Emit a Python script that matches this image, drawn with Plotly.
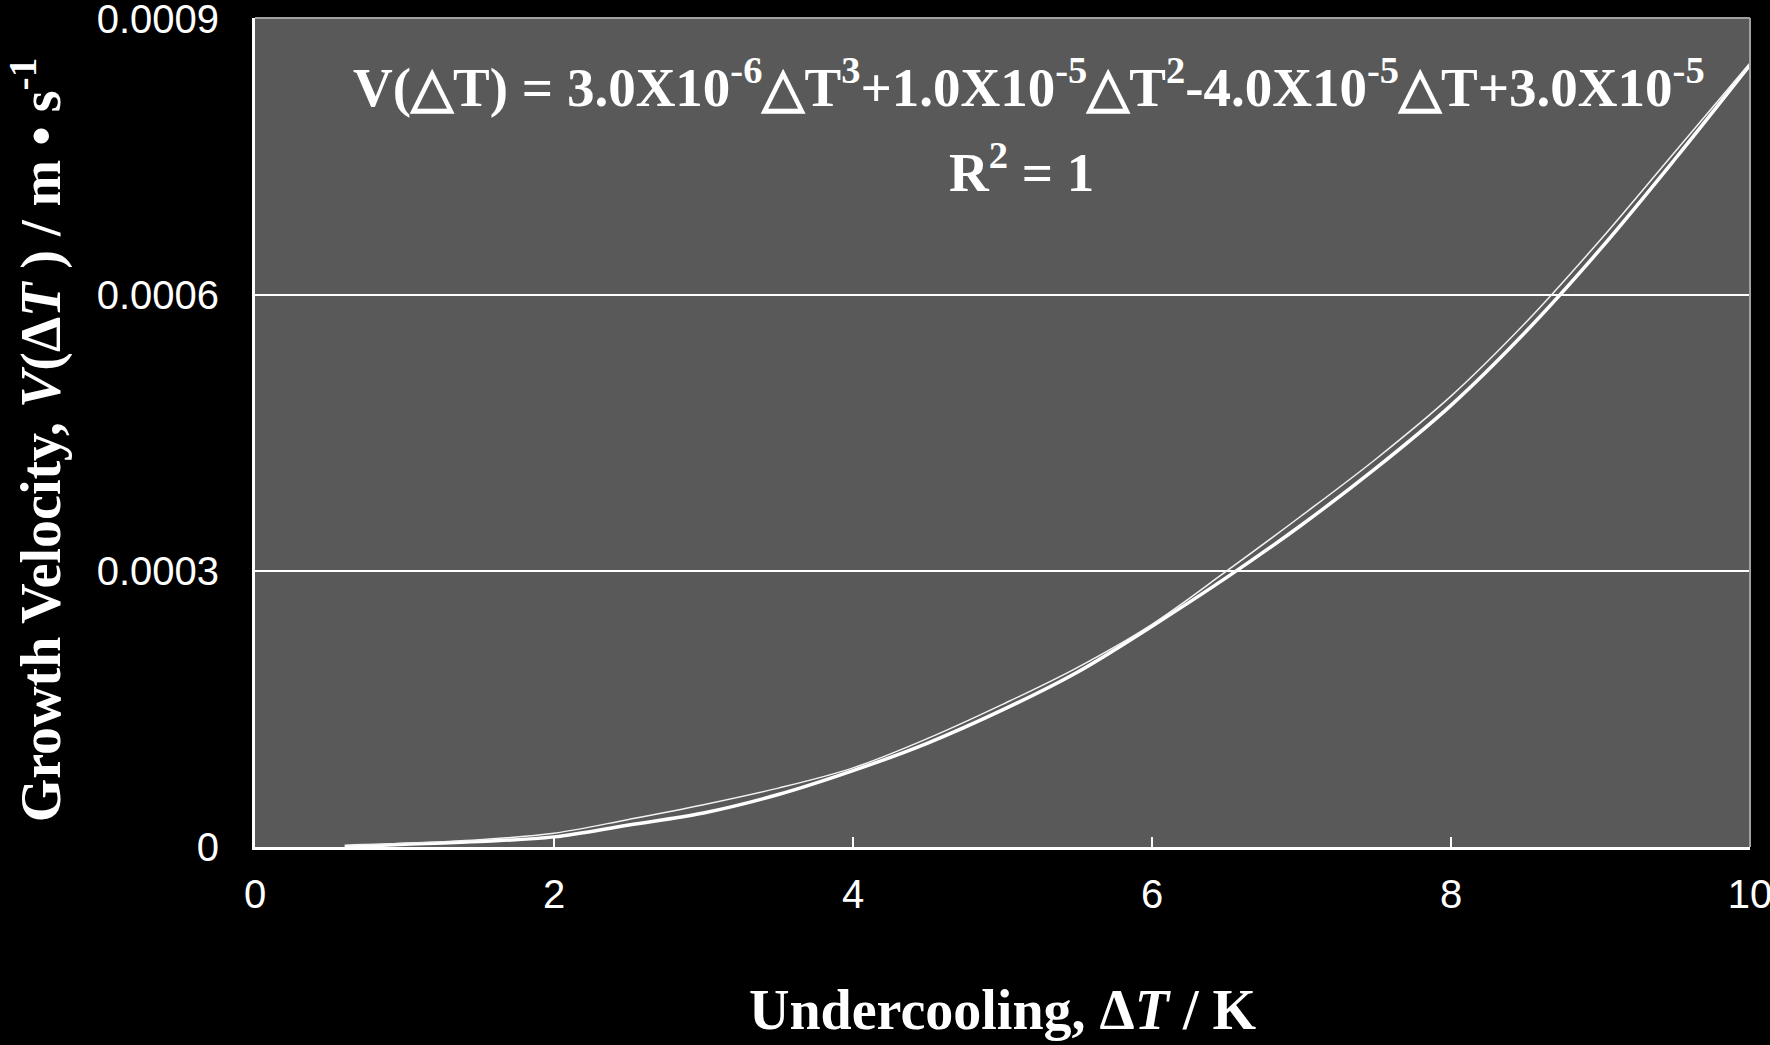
import plotly.graph_objects as go

# growth velocity (m/s)
dT = [0.6, 1.0, 1.5, 2.0, 2.5, 3.0, 3.5, 4.0, 4.5, 5.0,
      5.5, 6.0, 6.5, 7.0, 7.5, 8.0, 8.5, 9.0, 9.5, 10.0]
v_data = [0.0, 0.000003, 0.000006, 0.000011, 0.000024, 0.000037, 0.000057, 0.000083, 0.000113, 0.000149,
          0.000190, 0.000240, 0.000293, 0.000350, 0.000412, 0.000480, 0.000560, 0.000650, 0.000748, 0.000850]
v_fit = [0.000002, 0.000004, 0.000008, 0.000015, 0.000030, 0.000046, 0.000064, 0.000086, 0.000118, 0.000155,
         0.000195, 0.000242, 0.000300, 0.000360, 0.000422, 0.000490, 0.000570, 0.000660, 0.000756, 0.000852]

y_ticks = [0, 0.0003, 0.0006, 0.0009]
y_labels = ["0", "0.0003", "0.0006", "0.0009"]
x_ticks = [0, 2, 4, 6, 8, 10]

serif = "Liberation Serif, Times New Roman, serif"
sans = "Liberation Sans, Arial, sans-serif"

fig = go.Figure()
fig.add_trace(go.Scatter(x=dT, y=v_data, mode="lines", line=dict(color="white", width=3.5, shape="spline"),
                         showlegend=False))
fig.add_trace(go.Scatter(x=dT, y=v_fit, mode="lines", line=dict(color="#f2f2f2", width=1.5, shape="spline"),
                         showlegend=False))

fig.update_layout(
    width=1770, height=1045,
    margin=dict(l=255, r=20, t=18, b=198),
    paper_bgcolor="black", plot_bgcolor="#595959",
    font=dict(family=sans, color="white", size=40),
)
fig.update_xaxes(range=[0, 10], tickvals=x_ticks, ticks="inside", ticklen=10, tickwidth=2, tickcolor="white",
                 showline=True, linecolor="white", linewidth=3, showgrid=False, zeroline=False,
                 ticklabelstandoff=10, ticklabeloverflow="allow", automargin=False,
                 tickfont=dict(size=40, family=sans))
fig.update_yaxes(range=[0, 0.000901], tickvals=y_ticks, ticktext=y_labels, ticks="",
                 showline=True, linecolor="white", linewidth=3, showgrid=True, gridcolor="white",
                 gridwidth=2, zeroline=False, ticklabelstandoff=25, ticklabeloverflow="allow",
                 automargin=False, tickfont=dict(size=40, family=sans))

# grey frame on top and right
fig.add_shape(type="line", xref="paper", yref="paper", x0=0, x1=1, y0=1, y1=1,
              line=dict(color="#a0a0a0", width=2))
fig.add_shape(type="line", xref="paper", yref="paper", x0=1, x1=1, y0=0, y1=1,
              line=dict(color="#a0a0a0", width=2))

fig.add_annotation(text="<b>V(△T) = 3.0X10<sup>-6</sup>△T<sup>3</sup>+1.0X10<sup>-5</sup>△T<sup>2</sup>"
                        "-4.0X10<sup>-5</sup>△T+3.0X10<sup>-5</sup></b>",
                   xref="paper", yref="paper", x=0.518, y=0.965, showarrow=False,
                   font=dict(family=serif, size=55, color="white"))
fig.add_annotation(text="<b>R<sup>2</sup> = 1</b>", xref="paper", yref="paper", x=0.513, y=0.863,
                   showarrow=False, font=dict(family=serif, size=55, color="white"))

fig.add_annotation(text="<b>Undercooling, Δ<i>T</i> / K</b>", xref="paper", yref="paper",
                   x=0.5, y=-0.237, showarrow=False, font=dict(family=serif, size=56, color="white"))
fig.add_annotation(text="<b>Growth Velocity, <i>V</i>(Δ<i>T</i> ) / m • s<sup>-1</sup></b>",
                   xref="paper", yref="paper", x=-0.171, y=0.491, textangle=-90, showarrow=False,
                   font=dict(family=serif, size=56, color="white"))

fig.write_html("out.html", config={"displayModeBar": False},
               post_script="document.body.style.margin='0px';")
